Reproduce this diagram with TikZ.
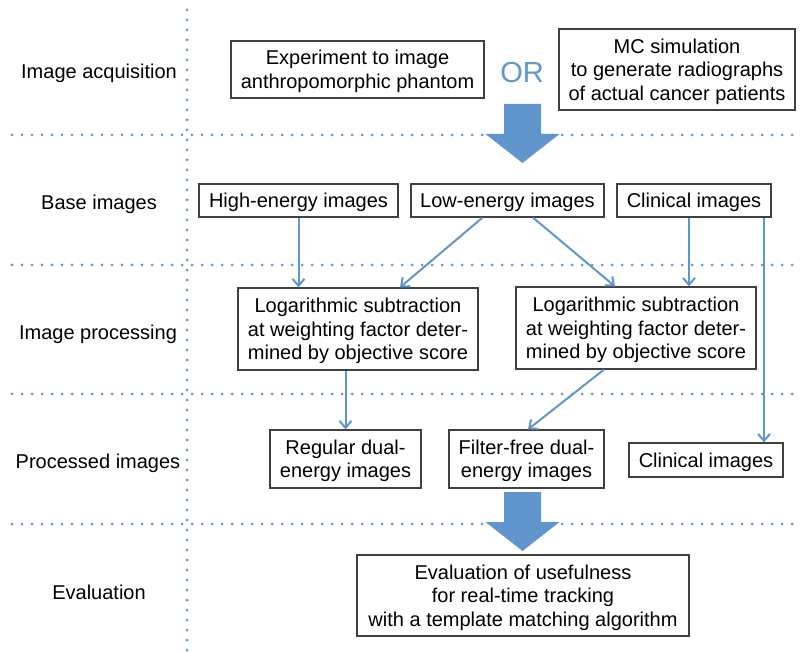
\documentclass[tikz,border=0pt]{standalone}
\usepackage{fontspec}
\setmainfont{Liberation Sans}
\usetikzlibrary{arrows.meta,calc}

\definecolor{flowblue}{RGB}{96,150,205}
\definecolor{boxgray}{RGB}{64,64,64}

\tikzset{
  txt/.style={font=\fontsize{20}{23.5}\selectfont, align=center, inner sep=0pt, text depth=-2pt},
  box/.style={txt, draw=boxgray, line width=1.2pt},
  flow/.style={draw=flowblue, line width=2pt, -{Straight Barb[length=7pt,width=12pt]}},
  lane/.style={draw=flowblue, line width=3pt, line cap=round, dash pattern=on 0pt off 10pt},
}

% big block arrow: centre x, top y
\newcommand{\blockarrow}[2]{%
  \fill[flowblue] (#1-18.5,#2) -- (#1+18.5,#2) -- (#1+18.5,#2+30) -- (#1+37,#2+30)
    -- (#1,#2+59) -- (#1-37,#2+30) -- (#1-18.5,#2+30) -- cycle;}

\begin{document}
\begin{tikzpicture}[x=1pt, y=-1pt]
  \useasboundingbox (0,0) rectangle (801,652);

  % lanes
  \draw[lane] (187,10) -- (187,652);
  \foreach \y in {135,265,394,524}
    \draw[lane] (12,\y) -- (801,\y);

  % stage names
  \node[txt] (acq)   at (99,71)  {Image acquisition};
  \node[txt] (base)  at (99,202) {Base images};
  \node[txt] (proc)  at (98,332) {Image processing};
  \node[txt] (procd) at (98,461) {Processed images};
  \node[txt] (evaln) at (99,592) {Evaluation};

  % acquisition
  \node[box, minimum width=253, minimum height=57] (expt) at (357.5,69.5)
    {Experiment to image\\anthropomorphic phantom};
  \node[txt, text depth=0pt, font=\fontsize{29}{30}\selectfont, text=flowblue] (orlbl) at (522,72) {OR};
  \node[box, minimum width=236, minimum height=81] (mcsim) at (677,69.5)
    {MC simulation\\to generate radiographs\\of actual cancer patients};
  \blockarrow{522.5}{104}

  % base images
  \node[box, minimum width=199, minimum height=33] (high) at (298.5,200.5) {High-energy images};
  \node[box, minimum width=193, minimum height=33] (low)  at (507.5,200.5) {Low-energy images};
  \node[box, minimum width=154, minimum height=33] (clin) at (694,200.5)   {Clinical images};

  % processing
  \node[box, minimum width=240, minimum height=82] (log1) at (358,329)
    {Logarithmic subtraction\\at weighting factor deter-\\mined by objective score};
  \node[box, minimum width=240, minimum height=82] (log2) at (636,328)
    {Logarithmic subtraction\\at weighting factor deter-\\mined by objective score};

  % processed images
  \node[box, minimum width=151, minimum height=58] (regular)  at (345.5,459) {Regular dual-\\energy images};
  \node[box, minimum width=155, minimum height=58] (filter)   at (526.5,459) {Filter-free dual-\\energy images};
  \node[box, minimum width=154, minimum height=34] (clinproc) at (706,460)   {Clinical images};
  \blockarrow{522.5}{492}

  % evaluation
  \node[box, minimum width=332, minimum height=81] (evalbox) at (523,595.5)
    {Evaluation of usefulness\\for real-time tracking\\with a template matching algorithm};

  \coordinate (clinA) at ($(clin.south)+(-5,0)$);
  \coordinate (clinB) at ($(clin.south)+(70,0)$);

  \draw[flow] (high.south) -- (high.south |- log1.north);
  \draw[flow] ($(low.south)+(-25,0)$) -- ($(log1.north)+(42,0)$);
  \draw[flow] ($(low.south)+(25.5,0)$) -- ($(log2.north)+(-21,0)$);
  \draw[flow] (clinA) -- (clinA |- log2.north);
  \draw[flow] (clinB) -- (clinB |- clinproc.north);
  \draw[flow] (regular.north |- log1.south) -- (regular.north);
  \draw[flow] ($(log2.south)+(-32,0)$) -- ($(filter.north)+(1.5,0)$);
\end{tikzpicture}
\end{document}
